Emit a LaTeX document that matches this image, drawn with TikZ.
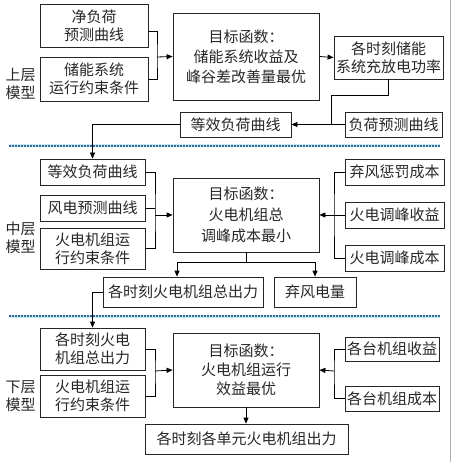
\documentclass[tikz,border=0pt]{standalone}
\usepackage{fontspec}
\setmainfont{Noto Sans CJK SC}
\usetikzlibrary{arrows.meta,positioning,calc}
\definecolor{dotblue}{RGB}{47,105,150}
\definecolor{haloblue}{RGB}{200,232,242}
\definecolor{txt}{RGB}{40,40,40}
\begin{document}
\begin{tikzpicture}[x=1pt,y=-1pt,
  box/.style={draw=black!85,line width=0.8pt,align=center,inner sep=0pt,text=txt,
    font=\fontsize{15}{18}\selectfont},
  bigbox/.style={box,font=\fontsize{15}{20}\selectfont},
  lab/.style={align=center,inner sep=0pt,text=txt,font=\fontsize{15}{18}\selectfont},
  conn/.style={line width=0.8pt,black},
  arr/.style={conn,-{Triangle[length=6pt,width=5pt]}},
  sep/.style={line width=3pt,haloblue},
  sepdot/.style={line width=2pt,dotblue,dash pattern=on 1.6pt off 1.4pt}]
\useasboundingbox (0,0) rectangle (452,462);
\fill[white] (0,0) rectangle (452,462);
\draw[black!30,line width=0.6pt] (450,0) -- (450,462);

% separators
\draw[sep] (9,146) -- (440,146);
\draw[sepdot] (9,146) -- (440,146);
\draw[sep] (9,316) -- (440,316);
\draw[sepdot] (9,316) -- (440,316);

% ---------- upper ----------
\node[box,minimum width=108pt,minimum height=43pt] (n1) at (94,25.5) {净负荷\\预测曲线};
\node[box,minimum width=108pt,minimum height=44pt] (n2) at (94,79) {储能系统\\运行约束条件};
\node[lab] (l1) at (20.5,83.5) {上层\\模型};
\node[bigbox,minimum width=146pt,minimum height=87pt] (o1) at (246,56.5) {目标函数：\\储能系统收益及\\峰谷差改善量最优};
\node[box,minimum width=109pt,minimum height=43pt] (st) at (388.5,57.5) {各时刻储能\\系统充放电功率};
\node[box,minimum width=111pt,minimum height=25pt] (eq1) at (235.5,124.5) {等效负荷曲线};
\node[box,minimum width=97pt,minimum height=25pt] (lf) at (393.5,124.5) {负荷预测曲线};

\coordinate (j1) at (157,57);
\coordinate (j2) at (331,124.5);
\draw[conn] ([yshift=-6pt]n1.east) -| (j1) |- (n2.east);
\draw[arr] (j1) -- (o1.west);
\draw[arr] (o1.east) -- (st.west);
\draw[conn] (st.south) -- ++(0,16) -| (j2);
\draw[arr] (lf.west) -- (eq1.east);

% ---------- middle ----------
\node[box,minimum width=105pt,minimum height=26pt] (eq2) at (92.5,172) {等效负荷曲线};
\node[box,minimum width=105pt,minimum height=26pt] (wd) at (92.5,208) {风电预测曲线};
\node[box,minimum width=105pt,minimum height=41pt] (tc2) at (92.5,248.5) {火电机组运\\行约束条件};
\node[lab] (l2) at (20.5,237.5) {中层\\模型};
\node[bigbox,minimum width=146pt,minimum height=74pt,font=\fontsize{15}{21}\selectfont] (o2) at (246,215) {目标函数：\\火电机组总\\调峰成本最小};
\node[box,minimum width=99pt,minimum height=26pt] (pen) at (394.5,172) {弃风惩罚成本};
\node[box,minimum width=99pt,minimum height=26pt] (ben) at (394.5,215) {火电调峰收益};
\node[box,minimum width=99pt,minimum height=26pt] (cst) at (394.5,258) {火电调峰成本};
\node[box,minimum width=160pt,minimum height=30pt] (out2) at (183,292) {各时刻火电机组总出力};
\node[box,minimum width=82pt,minimum height=30pt] (wc) at (315,292) {弃风电量};

\draw[arr] (eq1.west) -| (eq2.north);
\coordinate (j3) at (155,215);
\draw[conn] (eq2.east) -| (j3) |- (tc2.east);
\draw[conn] (wd.east) -- (wd.east -| j3);
\draw[arr] (j3) -- (o2.west);
\coordinate (j4) at (334,215);
\draw[conn] (pen.west) -| (j4) |- (cst.west);
\draw[arr] (ben.west) -- (o2.east);
\coordinate (j5) at (246,262);
\draw[conn] (o2.south) -- (j5);
\draw[arr] (j5) -| ([xshift=-6pt]out2.north);
\draw[arr] (j5) -| (wc.north);

% ---------- lower ----------
\node[box,minimum width=105pt,minimum height=42pt] (in3) at (92.5,349) {各时刻火电\\机组总出力};
\node[box,minimum width=105pt,minimum height=42pt] (tc3) at (92.5,396) {火电机组运\\行约束条件};
\node[lab] (l3) at (20.5,396) {下层\\模型};
\node[bigbox,minimum width=146pt,minimum height=74pt,font=\fontsize{15}{19}\selectfont] (o3) at (246,370) {目标函数：\\火电机组运行\\效益最优};
\node[box,minimum width=94pt,minimum height=24pt] (r1) at (392,349) {各台机组收益};
\node[box,minimum width=94pt,minimum height=25pt] (r2) at (392,398.5) {各台机组成本};
\node[box,minimum width=203pt,minimum height=30pt] (fin) at (246.5,439) {各时刻各单元火电机组出力};

\draw[arr] (out2.west) -| (in3.north);
\coordinate (j6) at (155,371);
\draw[conn] (in3.east) -| (j6) |- (tc3.east);
\draw[arr] (j6) -- (o3.west);
\coordinate (j7) at (334,371);
\draw[conn] (r1.west) -| (j7) |- (r2.west);
\draw[arr] (j7) -- (o3.east);
\draw[arr] (o3.south) -- (o3.south |- fin.north);
\end{tikzpicture}
\end{document}
